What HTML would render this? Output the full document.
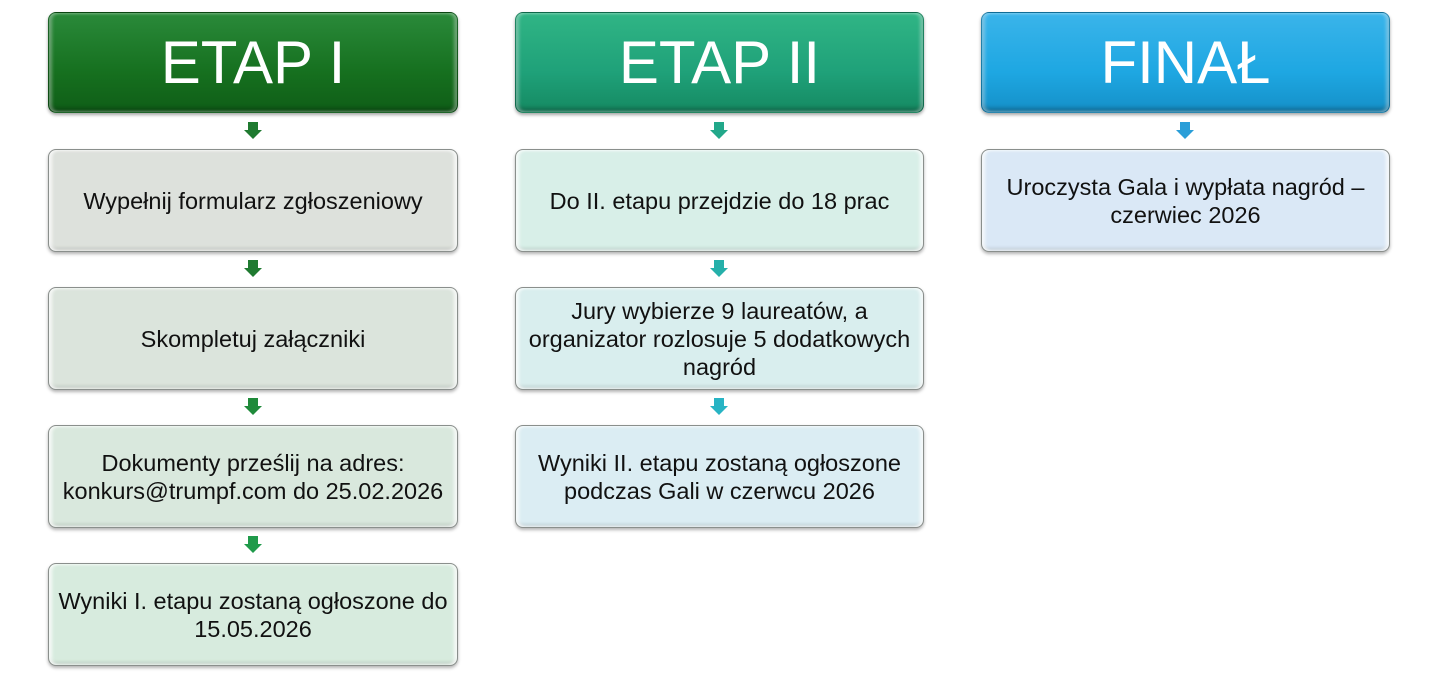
<!DOCTYPE html>
<html><head><meta charset="utf-8"><style>
body{margin:0;width:1440px;height:677px;background:#fff;position:relative;overflow:hidden;font-family:"Liberation Sans",sans-serif}
.h,.b{position:absolute;box-sizing:border-box;border-radius:8px;display:flex;align-items:center;justify-content:center;text-align:center}
.h{height:101px;top:12px;color:#fff;font-size:60px;border:1px solid rgba(0,0,0,.25);box-shadow:inset 3px 0 3px rgba(255,255,255,.35),inset -3px 0 3px rgba(255,255,255,.35),inset 0 -4px 4px rgba(0,0,0,.25),0 2px 3px rgba(0,0,0,.35)}
.b{height:103px;width:410px;border:1.5px solid #8a8f8c;color:#111;font-size:23.5px;line-height:28px;padding:0 4px;white-space:nowrap;box-shadow:inset 3px 0 3px rgba(255,255,255,.8),inset -3px 0 3px rgba(255,255,255,.8),inset 0 -3px 3px rgba(0,0,0,.12),0 2px 3px rgba(0,0,0,.3)}
.a{position:absolute;width:0;height:0}
.a:before{content:"";position:absolute;left:-5px;top:0;width:10px;height:8px;background:var(--c)}
.a:after{content:"";position:absolute;left:-9px;top:8px;border-left:9px solid transparent;border-right:9px solid transparent;border-top:9px solid var(--c)}
</style></head><body>
<div class="h" style="left:48px;width:410px;background:linear-gradient(#2a8a3a,#16701f 60%,#0f5e17)">ETAP I</div>
<div class="h" style="left:515px;width:409px;background:linear-gradient(#30b585,#1fa179 60%,#158a62)">ETAP II</div>
<div class="h" style="left:981px;width:409px;background:linear-gradient(#3ab4ea,#1ea7e2 60%,#1590c8)">FINAŁ</div>

<div class="a" style="left:253px;top:122px;--c:#1f7a30"></div>
<div class="a" style="left:253px;top:260px;--c:#1f7a30"></div>
<div class="a" style="left:253px;top:398px;--c:#1f8a3a"></div>
<div class="a" style="left:253px;top:536px;--c:#1f9a4a"></div>
<div class="a" style="left:719px;top:122px;--c:#22a88a"></div>
<div class="a" style="left:719px;top:260px;--c:#25b0aa"></div>
<div class="a" style="left:719px;top:398px;--c:#28b4c4"></div>
<div class="a" style="left:1185px;top:122px;--c:#2a9ed8"></div>

<div class="b" style="left:48px;top:149px;background:#dde1dc">Wypełnij formularz zgłoszeniowy</div>
<div class="b" style="left:48px;top:287px;background:#dbe4dc">Skompletuj załączniki</div>
<div class="b" style="left:48px;top:425px;background:#d9e8dd">Dokumenty prześlij na adres:<br>konkurs@trumpf.com do 25.02.2026</div>
<div class="b" style="left:48px;top:563px;background:#d7ebde">Wyniki I. etapu zostaną ogłoszone do<br>15.05.2026</div>

<div class="b" style="left:515px;top:149px;width:409px;background:#d8efe8">Do II. etapu przejdzie do 18 prac</div>
<div class="b" style="left:515px;top:287px;width:409px;background:#d9eeee">Jury wybierze 9 laureatów, a<br>organizator rozlosuje 5 dodatkowych<br>nagród</div>
<div class="b" style="left:515px;top:425px;width:409px;background:#dbedf3">Wyniki II. etapu zostaną ogłoszone<br>podczas Gali w czerwcu 2026</div>

<div class="b" style="left:981px;top:149px;width:409px;background:#dae8f6">Uroczysta Gala i wypłata nagród –<br>czerwiec 2026</div>
</body></html>
